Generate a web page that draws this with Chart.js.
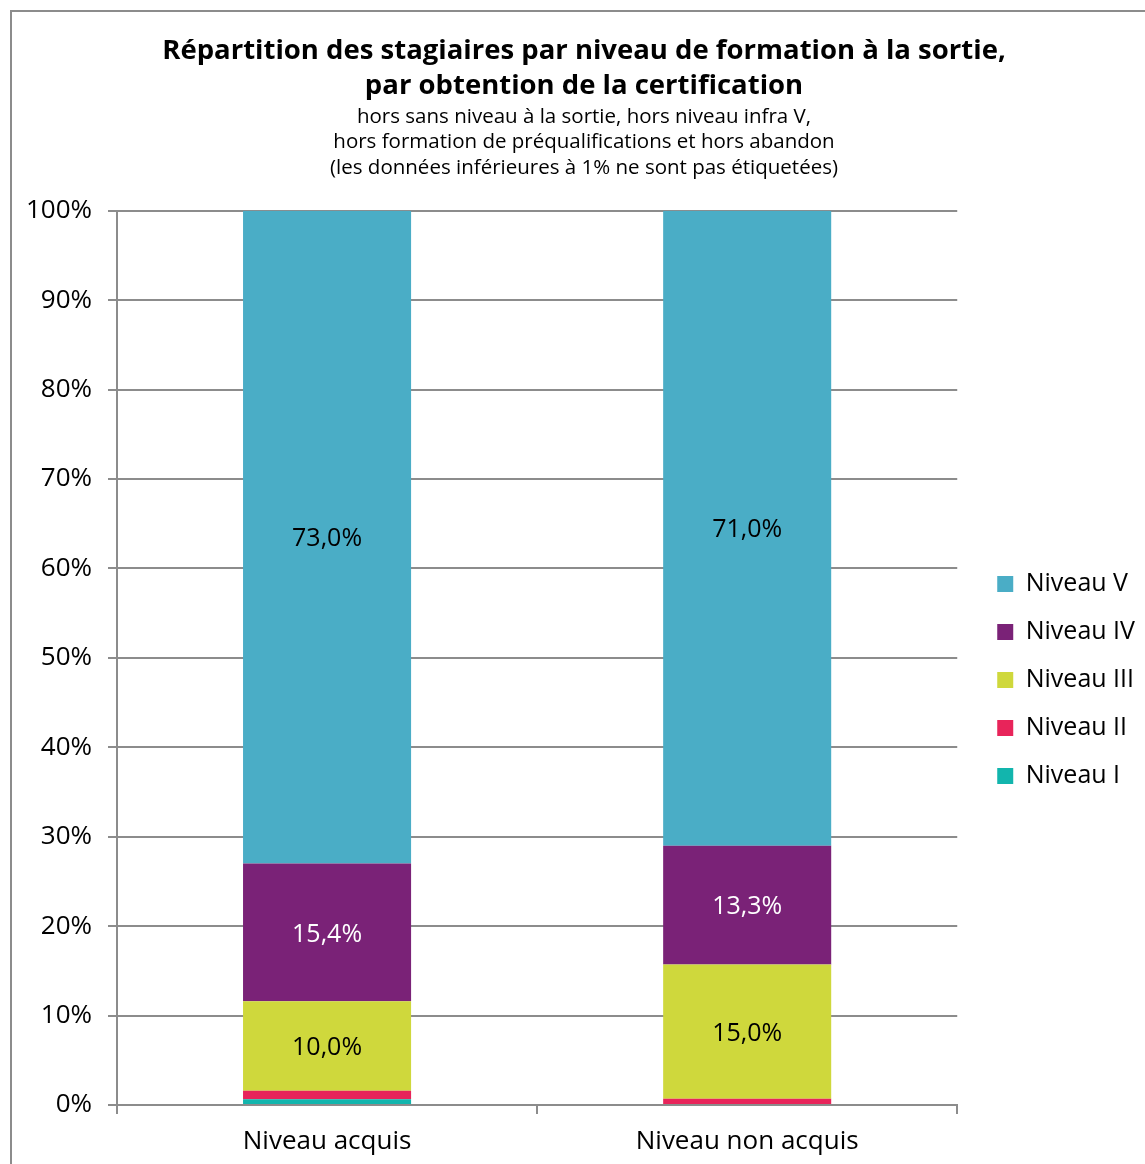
<!DOCTYPE html>
<html>
<head>
<meta charset="utf-8">
<script src="https://cdn.jsdelivr.net/npm/chart.js@4"></script>
<style>
  body { margin: 0; background: #fff; }
  #box {
    position: absolute; left: 10px; top: 10px;
    width: 1135px; height: 1154px;
    border-left: 2px solid #8c8c8c; border-top: 2px solid #8c8c8c;
    box-sizing: border-box;
  }
  canvas { display: block; }
</style>
</head>
<body>
<div id="box"><canvas id="graph" width="1133" height="1152"></canvas></div>
<script>
// categories
const categories = ['Niveau acquis', 'Niveau non acquis'];
// series (percent), bottom to top
const niveauI   = [0.65, 0.1];
const niveauII  = [0.95, 0.6];
const niveauIII = [10.0, 15.0];
const niveauIV  = [15.4, 13.3];
const niveauV   = [73.0, 71.0];

const seriesNames  = ['Niveau I', 'Niveau II', 'Niveau III', 'Niveau IV', 'Niveau V'];
const seriesColors = ['#12b5ad', '#e8245a', '#cfd83c', '#7a2277', '#4aadc6'];
const labelColors  = ['#000', '#000', '#000', '#fff', '#000'];

const FONT = '"Open Sans", sans-serif';

// étiquettes de données (>= 1%)
const valueLabels = {
    id: 'valueLabels',
    afterDatasetsDraw(chart) {
        const ctx = chart.ctx;
        ctx.save();
        ctx.font = '25px ' + FONT;
        ctx.textAlign = 'center';
        ctx.textBaseline = 'middle';
        chart.data.datasets.forEach((ds, i) => {
            const meta = chart.getDatasetMeta(i);
            meta.data.forEach((bar, j) => {
                const v = ds.data[j];
                if (v < 1) return;
                ctx.fillStyle = labelColors[i];
                ctx.fillText(v.toFixed(1).replace('.', ',') + '%', bar.x, (bar.y + bar.base) / 2 + 2);
            });
        });
        ctx.restore();
    }
};

const data = [niveauI, niveauII, niveauIII, niveauIV, niveauV];

const ctx = document.getElementById('graph').getContext('2d');
const myChart = new Chart(ctx, {
    type: 'bar',
    data: {
        labels: categories,
        datasets: seriesNames.map((name, i) => ({
            label: name,
            data: data[i],
            backgroundColor: seriesColors[i],
            borderWidth: 0,
            barPercentage: 0.4,
            categoryPercentage: 1.0
        }))
    },
    options: {
        responsive: false,
        animation: false,
        devicePixelRatio: 1,
        layout: { padding: { left: 11, right: 0, top: 14, bottom: 8 } },
        plugins: {
            title: {
                display: true,
                text: ['Répartition des stagiaires par niveau de formation à la sortie,', 'par obtention de la certification'],
                color: '#000',
                font: { family: FONT, size: 27.5, weight: 'bold', lineHeight: 1.27 },
                padding: { top: 8, bottom: 0 }
            },
            subtitle: {
                display: true,
                text: ['hors sans niveau à la sortie, hors niveau infra V,', 'hors formation de préqualifications et hors abandon', '(les données inférieures à 1% ne sont pas étiquetées)'],
                color: '#000',
                font: { family: FONT, size: 20.5, lineHeight: 1.25 },
                padding: { top: 0, bottom: 30 }
            },
            legend: {
                position: 'right',
                reverse: true,
                title: { display: true, text: ' ', font: { size: 10 }, padding: { top: 166, bottom: 0 } },
                labels: {
                    color: '#000',
                    font: { family: FONT, size: 25 },
                    boxWidth: 16,
                    boxHeight: 16,
                    padding: 23
                }
            },
            tooltip: { enabled: false }
        },
        scales: {
            x: {
                stacked: true,
                grid: { display: true, drawOnChartArea: false, drawTicks: true, tickLength: 9, color: '#8c8c8c', lineWidth: 2, offset: true },
                border: { color: '#8c8c8c', width: 2 },
                ticks: { color: '#000', font: { family: FONT, size: 26 }, padding: 12 },
                afterFit: s => { s.height = 51; }
            },
            y: {
                stacked: true,
                min: 0,
                max: 100,
                grid: { color: '#8c8c8c', lineWidth: 2, tickLength: 9 },
                border: { color: '#8c8c8c', width: 2 },
                ticks: {
                    stepSize: 10,
                    color: '#000',
                    font: { family: FONT, size: 26 },
                    padding: 16,
                    callback: v => v + '%'
                },
                afterFit: s => { s.width = 94; }
            },
            // espace vide entre le graphique et la légende
            gap: {
                type: 'linear',
                position: 'right',
                display: true,
                grid: { display: false },
                border: { display: false },
                ticks: { display: false },
                afterFit: s => { s.width = 17; }
            }
        }
    },
    plugins: [valueLabels]
});
</script>
</body>
</html>
